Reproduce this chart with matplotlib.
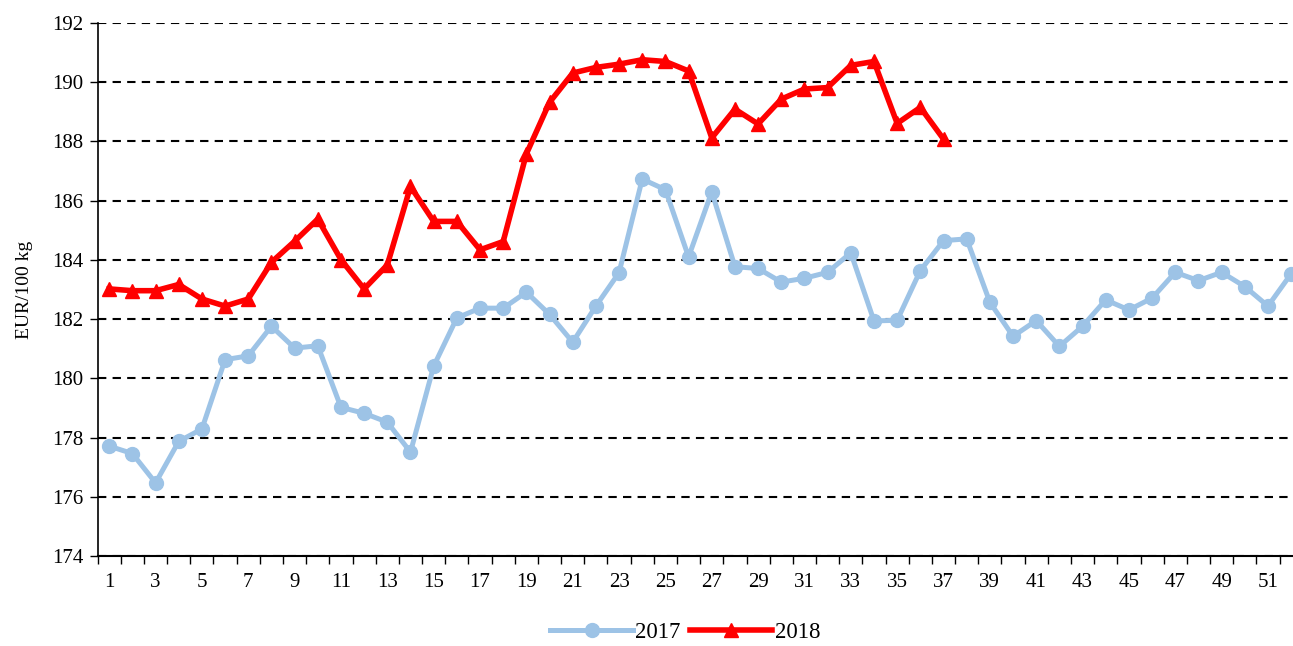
import numpy as np
import matplotlib.pyplot as plt
from matplotlib.ticker import MultipleLocator, FixedLocator

# weekly prices, EUR/100 kg
weeks_2017 = list(range(1, 53))
prices_2017 = [177.71, 177.46, 176.47, 177.87, 178.29, 180.63, 180.76, 181.76, 181.02, 181.10,
               179.02, 178.82, 178.52, 177.51, 180.41, 182.04, 182.37, 182.37, 182.91, 182.16,
               181.22, 182.44, 183.57, 186.73, 186.37, 184.10, 186.30, 183.77, 183.71, 183.25,
               183.38, 183.58, 184.24, 181.94, 181.96, 183.64, 184.65, 184.71, 182.57, 181.42,
               181.95, 181.08, 181.76, 182.65, 182.31, 182.71, 183.58, 183.30, 183.58, 183.10,
               182.44, 183.53]

weeks_2018 = list(range(1, 38))
prices_2018 = [183.02, 182.96, 182.96, 183.17, 182.68, 182.44, 182.68, 183.92, 184.63, 185.38,
               184.01, 183.02, 183.83, 186.48, 185.30, 185.30, 184.34, 184.62, 187.58, 189.32,
               190.31, 190.50, 190.61, 190.76, 190.70, 190.38, 188.12, 189.09, 188.59, 189.43,
               189.77, 189.82, 190.57, 190.70, 188.61, 189.15, 188.08]

x_labels = [str(w) for w in range(1, 53, 2)]

plt.rcParams['font.family'] = ['Liberation Serif', 'DejaVu Serif']

fig = plt.figure(figsize=(12.93, 6.46), dpi=100)
ax = fig.add_axes([0.0755, 0.1393, 0.9245, 0.8251])

ax.plot(weeks_2017, prices_2017, color='#9DC3E6', lw=3.6, marker='o', markersize=10,
        label='2017', zorder=3)
ax.plot(weeks_2018, prices_2018, color='#FF0000', lw=4, marker='^', markersize=10,
        label='2018', zorder=4)

ax.set_ylim(174, 192)
ax.set_xlim(0.5, 52.08)
ax.yaxis.set_major_locator(MultipleLocator(2))
ax.grid(axis='y', color='black', linestyle=(0, (4, 3)), lw=1.5)
ax.set_axisbelow(True)

ax.xaxis.set_major_locator(FixedLocator(range(1, 53, 2)))
ax.set_xticklabels(x_labels)
ax.xaxis.set_minor_locator(FixedLocator(np.arange(0.5, 53, 1)))
ax.tick_params(axis='x', which='major', length=0, pad=12, labelsize=15)
ax.tick_params(axis='x', which='minor', length=6, width=1, direction='out')
ax.tick_params(axis='y', length=6, width=1, direction='out', labelsize=15, pad=4)

for s in ['top', 'right']:
    ax.spines[s].set_visible(False)
ax.spines['left'].set_linewidth(1.2)
ax.spines['bottom'].set_linewidth(1.5)

ax.set_ylabel('EUR/100 kg', fontsize=14, labelpad=14)

fig.legend(loc='lower center', bbox_to_anchor=(0.53, -0.028), ncol=2, frameon=False,
           fontsize=16.5, handlelength=3.6, columnspacing=0.4, handletextpad=0.1)

fig.savefig('out.png', dpi=100)
